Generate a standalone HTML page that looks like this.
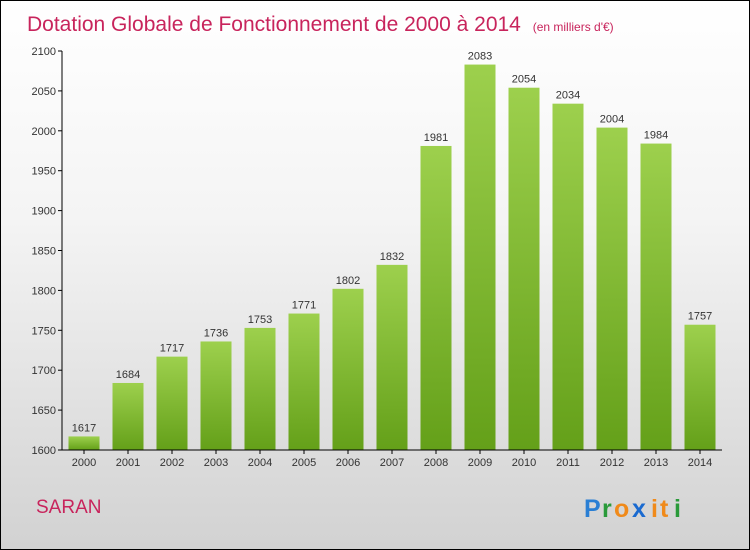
<!DOCTYPE html>
<html><head><meta charset="utf-8">
<style>
body{margin:0;}
#wrap{position:relative;width:748px;height:548px;border:1px solid #000;background:linear-gradient(#ffffff 0%,#f4f4f4 40%,#d2d2d2 100%);font-family:"Liberation Sans",sans-serif;overflow:hidden;}
</style></head>
<body>
<div id="wrap">
<svg id="chart" width="748" height="548" xmlns="http://www.w3.org/2000/svg">
<defs>
<linearGradient id="bg" x1="0" y1="0" x2="0" y2="1"><stop offset="0" stop-color="#9dd04d"/><stop offset="1" stop-color="#64a019"/></linearGradient>
</defs>
<text x="26" y="30" font-size="21" fill="#c8245c">Dotation Globale de Fonctionnement de 2000 à 2014 <tspan font-size="12" dx="6">(en milliers d'€)</tspan></text>
<g id="plot"></g>
<text x="35" y="512" font-size="19" fill="#c8245c">SARAN</text>
<g font-size="25" font-weight="bold">
<text x="583" y="516" fill="#2a7fd4">P</text>
<text x="601" y="516" fill="#2a9a3a">r</text>
<text x="613" y="516" fill="#f08a1a">o</text>
<text x="631" y="516" fill="#1a6ad0">x</text>
<text x="650" y="516" fill="#f08a1a">i</text>
<text x="659" y="516" fill="#f08a1a">t</text>
<text x="673" y="516" fill="#2a9a3a">i</text>
</g>
</svg>
</div>
<script>
const years=["2000","2001","2002","2003","2004","2005","2006","2007","2008","2009","2010","2011","2012","2013","2014"];
const values=[1617,1684,1717,1736,1753,1771,1802,1832,1981,2083,2054,2034,2004,1984,1757];
const yTicks=[1600,1650,1700,1750,1800,1850,1900,1950,2000,2050,2100];
const NS="http://www.w3.org/2000/svg";
const g=document.getElementById('plot');
const x0=61,x1=721,yB=449,yT=50,vMin=1600,vMax=2100;
const step=(x1-x0)/years.length,bw=31;
function y(v){return yB-(v-vMin)/(vMax-vMin)*(yB-yT);}
function xc(i){return x0+step*i+step/2;}
function el(t,a){const e=document.createElementNS(NS,t);for(const k in a)e.setAttribute(k,a[k]);g.appendChild(e);return e;}
yTicks.forEach(t=>{
 const l=el('line',{x1:x0-4,x2:x0,y1:y(t),y2:y(t),stroke:'#000'});
 
 
 const tx=el('text',{x:x0-6,y:y(t)+4,'font-size':11,'text-anchor':'end',fill:'#333'});
 tx.textContent=t;
 
 
});
values.forEach((v,i)=>{
 const r=el('rect',{x:xc(i)-bw/2,y:y(v),width:bw,height:yB-y(v),fill:'url(#bg)'});
 
 
 const t=el('text',{x:xc(i),y:y(v)-5,'font-size':11,'text-anchor':'middle',fill:'#333'});
 t.textContent=v;
 
 
 const tk=el('line',{x1:xc(i),x2:xc(i),y1:yB,y2:yB+4,stroke:'#000'});
 
 
 const xl=el('text',{x:xc(i),y:yB+16,'font-size':11,'text-anchor':'middle',fill:'#333'});
 xl.textContent=years[i];
 
 
});
const ya=el('line',{x1:x0,x2:x0,y1:yT,y2:yB,stroke:'#000'});


const xa=el('line',{x1:x0,x2:x1,y1:yB,y2:yB,stroke:'#000'});


</script>
</body></html>
